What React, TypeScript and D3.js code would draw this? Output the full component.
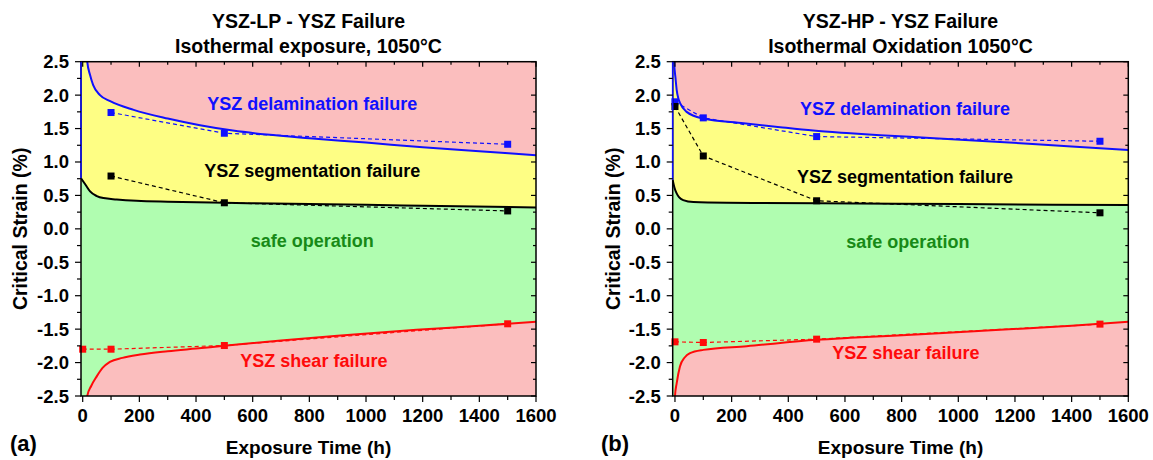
import React from "react";
import * as d3 from "d3";

// ---------- data (panel a: YSZ-LP) ----------
const expTimesA = [100, 500, 1500];
const delamPtsA = [1.74, 1.43, 1.265];
const segPtsA = [0.79, 0.39, 0.268];
const shearTimesA = [0, 100, 500, 1500];
const shearPtsA = [-1.8, -1.8, -1.745, -1.42];

const delamCurveA: [number, number][] = [[8, 3.2], [16, 2.5], [26, 2.3], [37, 2.15], [61, 2.0], [97, 1.91], [180, 1.78], [300, 1.65], [414, 1.55], [530, 1.47], [650, 1.41], [800, 1.355], [1000, 1.29], [1200, 1.22], [1400, 1.16], [1600, 1.1]];
const segCurveA: [number, number][] = [[-6, 0.757], [10, 0.66], [26, 0.56], [50, 0.49], [73, 0.46], [120, 0.44], [190, 0.42], [300, 0.405], [500, 0.39], [800, 0.37], [1000, 0.36], [1200, 0.345], [1600, 0.32]];
const shearCurveA: [number, number][] = [[8, -3.0], [16, -2.5], [30, -2.35], [49, -2.21], [70, -2.08], [96, -1.99], [140, -1.93], [202, -1.88], [300, -1.83], [400, -1.79], [500, -1.75], [700, -1.67], [900, -1.6], [1178, -1.51], [1400, -1.45], [1600, -1.39]];

// ---------- data (panel b: YSZ-HP) ----------
const expTimesB = [0, 100, 500, 1500];
const delamPtsB = [1.9, 1.66, 1.38, 1.31];
const segPtsB = [1.83, 1.09, 0.42, 0.24];
const shearPtsB = [-1.69, -1.7, -1.65, -1.425];

const delamCurveB: [number, number][] = [[-5, 3.0], [-3, 2.5], [2, 2.25], [6, 2.08], [12, 1.95], [18, 1.88], [41, 1.75], [100, 1.65], [242, 1.58], [371, 1.52], [488, 1.47], [618, 1.43], [724, 1.4], [900, 1.36], [1147, 1.3], [1400, 1.23], [1600, 1.18]];
const segCurveB: [number, number][] = [[-8, 0.73], [-2, 0.62], [6, 0.53], [15, 0.47], [29, 0.43], [65, 0.4], [183, 0.39], [511, 0.384], [1000, 0.37], [1600, 0.355]];
const shearCurveB: [number, number][] = [[-3, -3.0], [0, -2.5], [6, -2.31], [17.6, -2.06], [35, -1.92], [53, -1.86], [100, -1.81], [253, -1.755], [500, -1.66], [618, -1.63], [900, -1.57], [1147, -1.51], [1400, -1.45], [1600, -1.39]];

const xMajorTicks = [0, 200, 400, 600, 800, 1000, 1200, 1400, 1600];
const xMinorTicks = [100, 300, 500, 700, 900, 1100, 1300, 1500];
const yMajorTicks = [-2.5, -2.0, -1.5, -1.0, -0.5, 0.0, 0.5, 1.0, 1.5, 2.0, 2.5];
const yMinorTicks = [-2.25, -1.75, -1.25, -0.75, -0.25, 0.25, 0.75, 1.25, 1.75, 2.25];

const PINK = "#fbbebe";
const YELLOW = "#fefe84";
const GREEN = "#b0fdb0";
const BLUE = "#1010ff";
const RED = "#ff0a0a";
const LBL_GREEN = "#178a17";
const FONT = "'Liberation Sans', Arial, Helvetica, sans-serif";

type Lbl = { text: string; t: number; v: number; color: string };

interface PanelProps {
  id: string;
  xMin: number;
  left: number;
  right: number;
  title1: string;
  title2: string;
  tag: string;
  tagX: number;
  yLabelX: number;
  delamCurve: [number, number][];
  segCurve: [number, number][];
  shearCurve: [number, number][];
  delamT: number[];
  delamV: number[];
  segT: number[];
  segV: number[];
  shearT: number[];
  shearV: number[];
  labels: Lbl[];
}

const TOP = 61.7;
const BOT = 396;

function Panel(p: PanelProps) {
  const x = d3.scaleLinear().domain([p.xMin, 1600]).range([p.left, p.right]);
  const y = d3.scaleLinear().domain([-2.5, 2.5]).range([BOT, TOP]);
  const line = d3
    .line<[number, number]>()
    .x((d) => x(d[0]))
    .y((d) => y(d[1]))
    .curve(d3.curveMonotoneX);
  const straight = d3
    .line<[number, number]>()
    .x((d) => x(d[0]))
    .y((d) => y(d[1]));

  const dPath = line(p.delamCurve)!;
  const sPath = line(p.segCurve)!;
  const hPath = line(p.shearCurve)!;
  const L = p.left, R = p.right;
  const yellowArea = `M${L},${TOP - 100}` + dPath.replace(/^M/, "L") + `L${R + 5},${BOT + 100}L${L},${BOT + 100}Z`;
  const greenArea = sPath + `L${R + 5},${BOT + 100}L${L},${BOT + 100}Z`;
  const last = p.shearCurve[0];
  const pinkArea = hPath + `L${R + 5},${BOT + 100}L${x(last[0])},${BOT + 100}Z`;
  const cx = (L + R) / 2;
  const midY = (TOP + BOT) / 2;

  const zip = (t: number[], v: number[]) => t.map((tt, i) => [tt, v[i]] as [number, number]);
  const series = [
    { pts: zip(p.delamT, p.delamV), color: BLUE },
    { pts: zip(p.segT, p.segV), color: "#000" },
    { pts: zip(p.shearT, p.shearV), color: RED },
  ];
  const ms = 7;

  return (
    <g>
      <defs>
        <clipPath id={"clip" + p.id}>
          <rect x={L} y={TOP} width={R - L} height={BOT - TOP} />
        </clipPath>
      </defs>
      <g clipPath={`url(#clip${p.id})`}>
        <rect x={L} y={TOP} width={R - L} height={BOT - TOP} fill={PINK} />
        <path d={yellowArea} fill={YELLOW} />
        <path d={greenArea} fill={GREEN} />
        <path d={pinkArea} fill={PINK} />
        <path d={dPath} fill="none" stroke={BLUE} strokeWidth={2} />
        <path d={sPath} fill="none" stroke="#000" strokeWidth={2} />
        <path d={hPath} fill="none" stroke={RED} strokeWidth={2} />
      </g>
      {series.map((s, i) => (
        <g key={i}>
          <path d={straight(s.pts)!} fill="none" stroke={s.color} strokeWidth={1.2} strokeDasharray="4,3" />
          {s.pts.map((d, j) => (
            <rect key={j} x={x(d[0]) - ms / 2} y={y(d[1]) - ms / 2} width={ms} height={ms} fill={s.color} />
          ))}
        </g>
      ))}
      {/* frame */}
      <rect x={L} y={TOP} width={R - L} height={BOT - TOP} fill="none" stroke="#000" strokeWidth={1.5} />
      <line x1={L} x2={L} y1={TOP} y2={y(p.segCurve[0][1])} stroke={BLUE} strokeWidth={1.5} />
      {/* x ticks */}
      {xMajorTicks.map((t) => (
        <g key={"xM" + t}>
          <line x1={x(t)} x2={x(t)} y1={BOT} y2={BOT + 6} stroke="#000" strokeWidth={1.2} />
          <line x1={x(t)} x2={x(t)} y1={TOP} y2={TOP + 5} stroke="#000" strokeWidth={1.2} />
          <text x={x(t)} y={422} textAnchor="middle" fontSize={18.5} fontWeight="bold" fontFamily={FONT}>
            {t}
          </text>
        </g>
      ))}
      {xMinorTicks.map((t) => (
        <g key={"xm" + t}>
          <line x1={x(t)} x2={x(t)} y1={BOT} y2={BOT + 4} stroke="#000" strokeWidth={1.2} />
          <line x1={x(t)} x2={x(t)} y1={TOP} y2={TOP + 3} stroke="#000" strokeWidth={1.2} />
        </g>
      ))}
      {yMajorTicks.map((v) => (
        <g key={"yM" + v}>
          <line x1={L - 6} x2={L} y1={y(v)} y2={y(v)} stroke="#000" strokeWidth={1.2} />
          <line x1={R - 5} x2={R} y1={y(v)} y2={y(v)} stroke="#000" strokeWidth={1.2} />
          <text x={L - 12} y={y(v) + 6.5} textAnchor="end" fontSize={18.5} fontWeight="bold" fontFamily={FONT}>
            {v.toFixed(1)}
          </text>
        </g>
      ))}
      {yMinorTicks.map((v) => (
        <g key={"ym" + v}>
          <line x1={L - 4} x2={L} y1={y(v)} y2={y(v)} stroke="#000" strokeWidth={1.2} />
          <line x1={R - 3} x2={R} y1={y(v)} y2={y(v)} stroke="#000" strokeWidth={1.2} />
        </g>
      ))}
      {/* titles */}
      <text x={cx} y={28.3} textAnchor="middle" fontSize={19.5} fontWeight="bold" fontFamily={FONT}>
        {p.title1}
      </text>
      <text x={cx} y={52.7} textAnchor="middle" fontSize={19.5} fontWeight="bold" fontFamily={FONT}>
        {p.title2}
      </text>
      <text x={cx} y={454} textAnchor="middle" fontSize={19} fontWeight="bold" fontFamily={FONT}>
        Exposure Time (h)
      </text>
      <text
        transform={`translate(${p.yLabelX},${midY}) rotate(-90)`}
        textAnchor="middle"
        fontSize={19.5}
        fontWeight="bold"
        fontFamily={FONT}
      >
        Critical Strain (%)
      </text>
      <text x={p.tagX} y={451} fontSize={22} fontWeight="bold" fontFamily={FONT}>
        {p.tag}
      </text>
      {p.labels.map((l, i) => (
        <text key={i} x={x(l.t)} y={y(l.v)} textAnchor="middle" fontSize={18} fontWeight="bold" fontFamily={FONT} fill={l.color}>
          {l.text}
        </text>
      ))}
    </g>
  );
}

export default function App() {
  return (
    <svg width={1153} height={460} style={{ position: "absolute", left: 0, top: 0, background: "#fff" }}>
      <Panel
        id="a"
        xMin={-6}
        left={81}
        right={536}
        title1="YSZ-LP - YSZ Failure"
        title2="Isothermal exposure, 1050°C"
        tag="(a)"
        tagX={10}
        yLabelX={26.7}
        delamCurve={delamCurveA}
        segCurve={segCurveA}
        shearCurve={shearCurveA}
        delamT={expTimesA}
        delamV={delamPtsA}
        segT={expTimesA}
        segV={segPtsA}
        shearT={shearTimesA}
        shearV={shearPtsA}
        labels={[
          { text: "YSZ delamination failure", t: 810, v: 1.78, color: BLUE },
          { text: "YSZ segmentation failure", t: 810, v: 0.77, color: "#000" },
          { text: "safe operation", t: 810, v: -0.27, color: LBL_GREEN },
          { text: "YSZ shear failure", t: 816, v: -2.06, color: RED },
        ]}
      />
      <Panel
        id="b"
        xMin={-8}
        left={672.7}
        right={1128.3}
        title1="YSZ-HP - YSZ Failure"
        title2="Isothermal Oxidation 1050°C"
        tag="(b)"
        tagX={601}
        yLabelX={620}
        delamCurve={delamCurveB}
        segCurve={segCurveB}
        shearCurve={shearCurveB}
        delamT={expTimesB}
        delamV={delamPtsB}
        segT={expTimesB}
        segV={segPtsB}
        shearT={expTimesB}
        shearV={shearPtsB}
        labels={[
          { text: "YSZ delamination failure", t: 812, v: 1.7, color: BLUE },
          { text: "YSZ segmentation failure", t: 812, v: 0.68, color: "#000" },
          { text: "safe operation", t: 822, v: -0.285, color: LBL_GREEN },
          { text: "YSZ shear failure", t: 815, v: -1.95, color: RED },
        ]}
      />
    </svg>
  );
}
